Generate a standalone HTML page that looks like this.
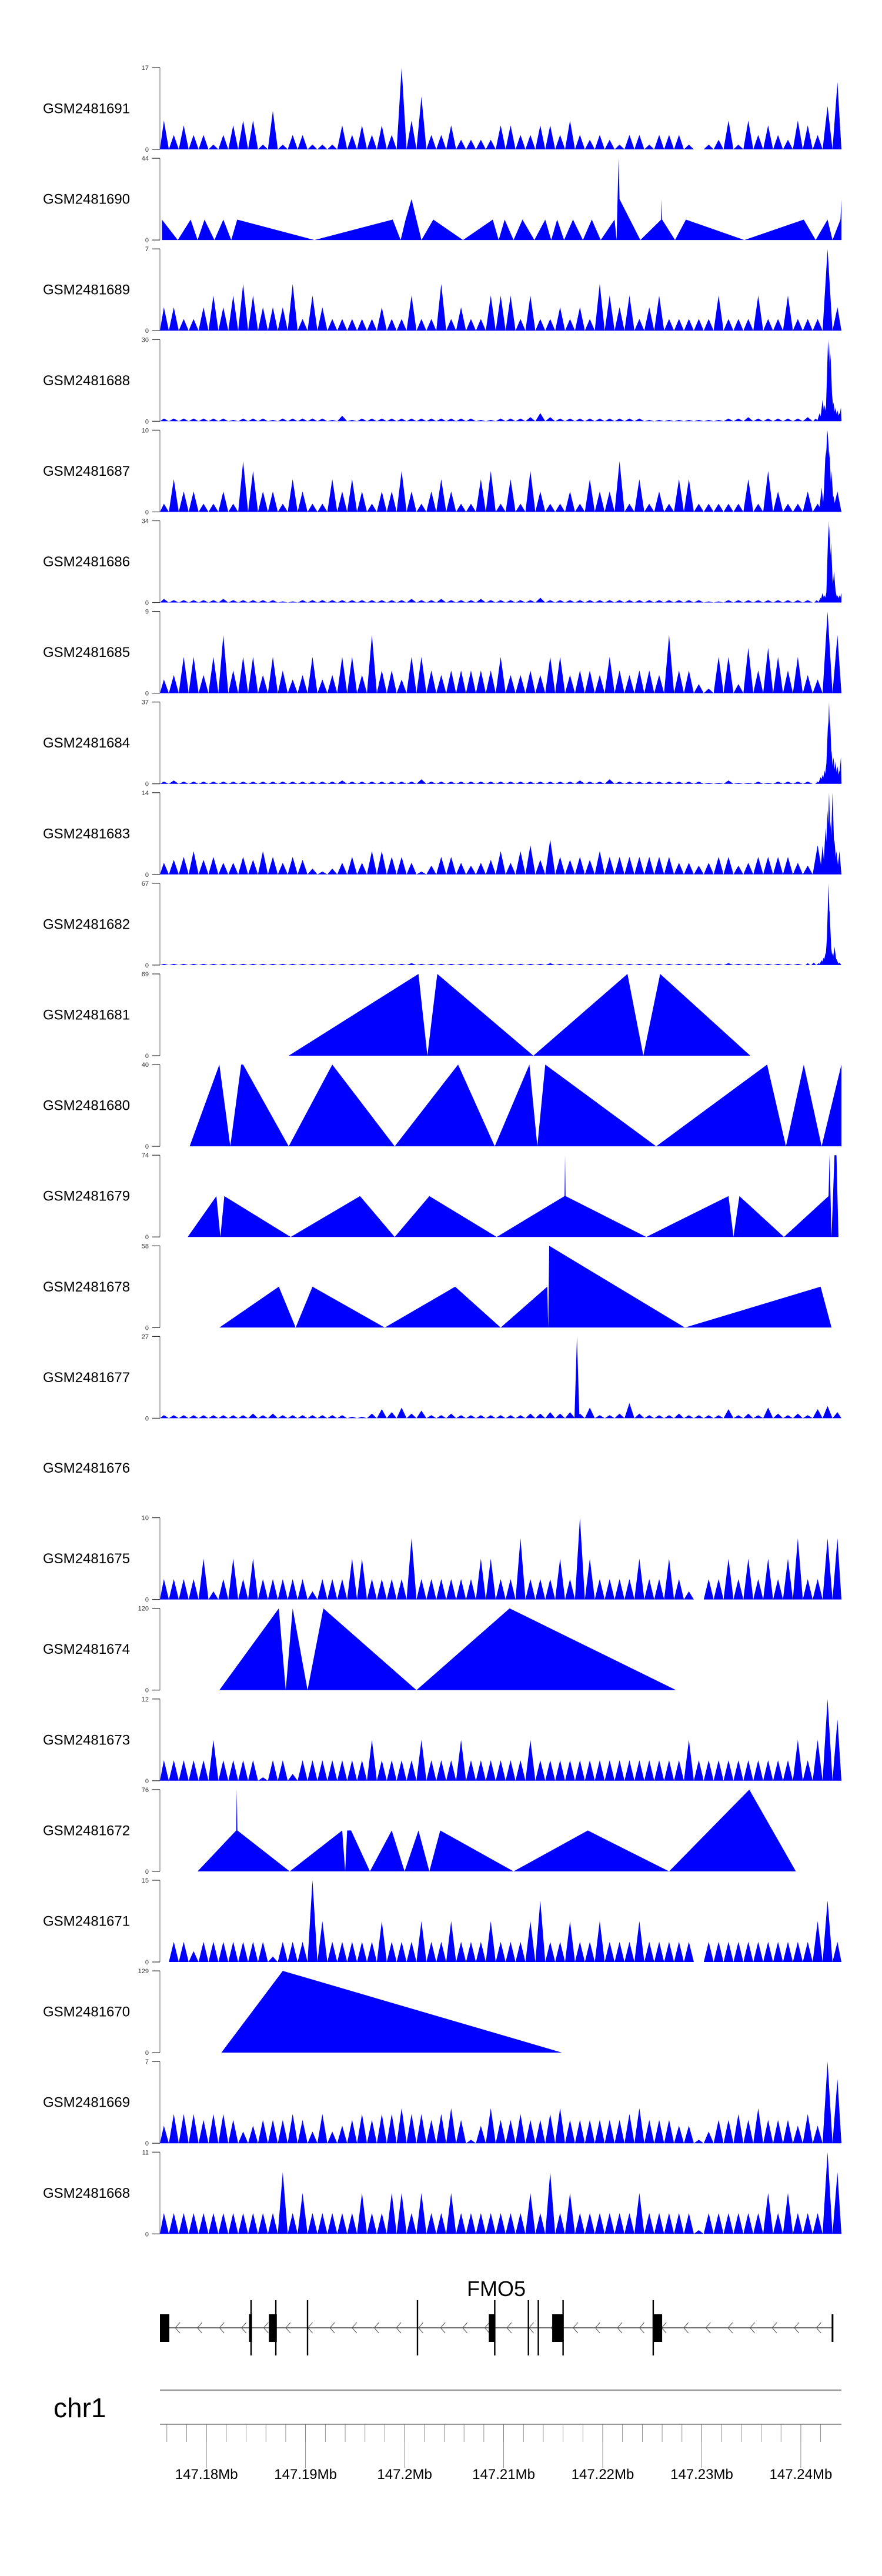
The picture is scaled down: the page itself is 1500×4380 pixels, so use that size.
<!DOCTYPE html>
<html><head><meta charset="utf-8"><style>
html,body{margin:0;padding:0;background:#fff}
svg{display:block}
text{font-family:"Liberation Sans",sans-serif}
</style></head>
<body>
<svg id="chart" width="1500" height="4380" viewBox="0 0 1500 4380" xmlns="http://www.w3.org/2000/svg"></svg>
<script>
const trackNames=["GSM2481691","GSM2481690","GSM2481689","GSM2481688","GSM2481687","GSM2481686","GSM2481685","GSM2481684","GSM2481683","GSM2481682","GSM2481681","GSM2481680","GSM2481679","GSM2481678","GSM2481677","GSM2481676","GSM2481675","GSM2481674","GSM2481673","GSM2481672","GSM2481671","GSM2481670","GSM2481669","GSM2481668"];
const trackMax=[17,44,7,30,10,34,9,37,14,67,69,40,74,58,27,null,10,120,12,76,15,129,7,11];

// spike-style tracks: bin values at kb = i (relative to 147.1753 Mb)
const b1691=[6,3,5,3,3,1,3,5,6,6,1,8,1,3,3,1,1,1,5,3,5,3,5,3,17,6,11,3,3,5,2,2,2,2,5,5,3,3,5,5,3,6,3,2,3,2,1,3,3,1,3,3,3,1,0,1,2,6,1,6,3,5,3,2,6,5,3,9,14];
const b1689=[2,2,1,1,2,3,2,3,4,3,2,2,2,4,1,3,2,1,1,1,1,1,2,1,1,3,1,1,4,1,2,1,1,3,3,3,1,3,1,1,2,1,2,1,4,3,2,3,1,2,3,1,1,1,1,1,3,1,1,1,3,1,1,3,1,1,1,7,2];
const b1688=[1,1,1,1,1,1,1,0.5,1,1,1,0.5,1,1,1,1,1,0.5,2,0.5,1,1,1,1,1,1,1,1,1,1,1,1,0.5,0.5,1,1,1,1.5,3,1.5,1,1,1,1,1,1,1,1,1,0.5,0.5,0.5,0.5,0.5,0.5,0.5,0.5,1,1,1.5,1,1,1,1,1,1.5,0];
const b1687=[1,4,2.5,2.5,1,1,2.5,1,6.2,5,2.5,2.5,1,4,2.5,1,1,4,2.5,4,2.5,1,2.5,2.5,5,2.5,1,2.5,4,2.5,1,1,4,5,1,4,1,5,2.5,1,1,2.5,1,4,2.5,2.5,6.2,1,4,1,2.5,1,4,4,1,1,1,1,1,4,1,5,2.5,1,1,2.5,1,10,2.5];
const b1686=[1.5,1,1,1,1,1,1.5,1,1,1,1,1,0.5,0.5,1,1,1,1,1,1,1,1,1,1,1,1.5,1,1,1.5,1,1,1,1.5,1,1,1,1,1,2,1,1,1,1,1,1,1,1,1,1,1,1,1,1,1,1,0.5,0.5,1,1,1,1,1,1,1,1,1,0];
const b1685=[1.5,2,4,4,2,4,6.4,2.5,4,4,2,4,2.5,1.5,2,4,1.5,2,4,4,2,6.4,2.5,2.5,1.5,4,4,2.5,2,2.5,2.5,2.5,2.5,2.5,4,2,2,2.5,2,4,4,2,2.5,2.5,2,4,2.5,2,2.5,2.5,2,6.4,2.5,2.5,1,0.5,4,4,1,5,2.5,5,4,2.5,4,2,1.5,9,6.4];
const b1684=[1,1.5,1,1,1,1,1,1,1,1,1,1,1,1,1,1,1,1,1.5,1,1,1,1,1,1,1,2,1,1,1,1,1,1,1,1,1,1,1,1,1,1,1,1.5,1,1,2,1,1,1,1,1,1,1,1,1,0.5,0.5,1.5,0.5,0.5,1,0.5,1,1,1,1,0];
const b1683=[2,2.5,3,4,2.5,3,2,2,3,2.5,4,3,2,3,2.5,1,0.5,1,2,3,2,4,4,3,3,2,0.5,1.5,3,3,2,1.5,2,2.5,4,2,4,5,2.5,6,3,2.5,3,2.5,4,3,3,3,3,3,3,3,2,2,1.5,2,3,3,1.5,2,3,3,3,3,2,1.5,5];
const b1682=[1,1,1,1,1,1,1,1,1,1,1,1,1,1,1,1,1,1,1,1,1,1,1,1,1,1.5,1,1,1,1,1,1,1,1,1,1,1,1,1,1.5,1,1,1,1,1,1,1,1,1,1,1,1,1,1,1,1,1,1.5,1,1,1,1,1,1,1];
const b1677=[1,1,1,1,1,1,1,1,1,1.5,1,1.5,1,1,1,1,1,1,1,0.5,0.5,1.5,3,2,3.5,1.5,2.5,1,1,1.5,1,1,1,1,1,1,1,1.5,1.5,2,1.5,2,1.5,3.5,1,1,1.5,5,1.5,1,1,1,1.5,1,1,1,1,3,1,1.5,1,3.5,1.5,1,1.5,1,3,4,2];
const b1675=[2.5,2.5,2.5,2.5,5,1,2.5,5,2.5,5,2.5,2.5,2.5,2.5,2.5,1,2.5,2.5,2.5,5,5,2.5,2.5,2.5,2.5,7.5,2.5,2.5,2.5,2.5,2.5,2.5,5,5,2.5,2.5,7.5,2.5,2.5,2.5,5,2.5,10,5,2.5,2.5,2.5,2.5,5,2.5,2.5,5,2.5,1,0,2.5,2.5,5,2.5,5,2.5,5,2.5,5,7.5,2.5,2.5,7.5,7.5];
const b1673=[3,3,3,3,3,6,3,3,3,3,0.5,3,3,1,3,3,3,3,3,3,3,6,3,3,3,3,6,3,3,3,6,3,3,3,3,3,3,6,3,3,3,3,3,3,3,3,3,3,3,3,3,3,3,6,3,3,3,3,3,3,3,3,3,3,6,3,6,12,9];
const b1671=[0,3.7,3.7,2,3.7,3.7,3.7,3.7,3.7,3.7,3.7,1,3.7,3.7,3.7,15,7.5,3.7,3.7,3.7,3.7,3.7,7.5,3.7,3.7,3.7,7.5,3.7,3.7,7.5,3.7,3.7,3.7,7.5,3.7,3.7,3.7,7.5,11.3,3.7,3.7,7.5,3.7,3.7,7.5,3.7,3.7,3.7,7.5,3.7,3.7,3.7,3.7,3.7,0,3.7,3.7,3.7,3.7,3.7,3.7,3.7,3.7,3.7,3.7,3.7,7.5,11.3,3.7];
const b1669=[1.5,2.5,2.5,2.5,2,2.5,2.5,2,1,1.5,2,2,2,2.5,2,1,2.5,1,1.5,2,2.5,2,2.5,2.5,3,2.5,2.5,2,2.5,3,2,0.3,1.5,3,2,2,2.5,2,2,2.5,3,2,2,2,2,2,2,2.5,3,2,2,2,1.5,1.5,0.3,1,2,2,2.5,2,3,2,2,2,1.5,2.5,1.5,7,5.5];
const b1668=[2.8,2.8,2.8,2.8,2.8,2.8,2.8,2.8,2.8,2.8,2.8,2.8,8.3,2.8,5.5,2.8,2.8,2.8,2.8,2.8,5.5,2.8,2.8,5.5,5.5,2.8,5.5,2.8,2.8,5.5,2.8,2.8,2.8,2.8,2.8,2.8,2.8,5.5,2.8,8.3,2.8,5.5,2.8,2.8,2.8,2.8,2.8,2.8,5.5,2.8,2.8,2.8,2.8,2.8,0.5,2.8,2.8,2.8,2.8,2.8,2.8,5.5,2.8,5.5,2.8,2.8,2.8,11,8.3];

// narrow extra spikes (tails / isolated peaks)
const t1688Pos=[66.2,66.6,66.9,67.1,67.3,67.45,67.55,67.7,67.85,68.0,68.2,68.4,68.6,68.75];
const t1688Val=[1,3,8,6,7,30,29,25,10,7,5,4,3,5];
const t1686Pos=[66.3,66.7,66.9,67.1,67.35,67.5,67.6,67.75,67.9,68.05,68.2,68.4,68.6,68.8];
const t1686Val=[1,2,4,3,6,34,32,25,10,13,5,3,3,4];
const t1684Pos=[66.4,66.7,66.9,67.1,67.3,67.45,67.55,67.65,67.8,68.0,68.2,68.4,68.6,68.75];
const t1684Val=[1,3,4,6,10,28,37,30,15,12,10,8,6,12];
const t1683Pos=[66.5,66.9,67.2,67.4,67.55,67.7,67.9,68.1,68.3,68.6];
const t1683Val=[2,5,8,11,14,9,14,6,4,4];
const t1682Pos=[65.4,66.0,66.5,66.8,67.0,67.2,67.4,67.5,67.6,67.75,67.9,68.1,68.3,68.6];
const t1682Val=[1.5,2,1.5,4,6,10,30,67,45,15,10,15,5,2];
const t1687Pos=[66.8,67.2,67.35,67.6,67.8,68.0];
const t1687Val=[3,7.5,10,7.5,5,2];
const t1677Pos=[42.1];
const t1677Val=[27];

// line-style tracks: vertices
const l1690Pos=[0.2,1.8,3.1,3.8,4.5,5.5,6.4,7.2,7.8,15.6,23.5,24.3,24.8,25.4,26.4,27.6,30.6,33.6,34.2,34.8,35.7,36.6,37.8,38.9,39.5,40.1,40.8,41.7,42.7,43.6,44.5,45.9,46.1,46.3,46.4,48.5,50.6,50.65,50.7,52.0,53.1,59.0,65.0,66.2,67.4,67.9,68.7,68.8];
const l1690Val=[11,0,11,0,11,0,11,0,11,0,11,0,11,22,0,11,0,11,0,11,0,11,0,11,0,11,0,11,0,11,0,11,0,44,22,0,11,22,11,0,11,0,11,0,11,0,11,22];
const l1681Pos=[13.0,26.1,27.0,28.0,37.7,47.2,48.8,50.5,59.6];
const l1681Val=[0,69,0,69,0,69,0,69,0];
const l1680Pos=[3.0,6.0,7.1,8.2,8.4,13.0,17.4,23.7,30.1,33.8,37.3,38.1,38.9,50.1,61.3,63.2,65.0,66.8,68.8];
const l1680Val=[0,40,0,40,40,0,40,0,40,0,40,0,40,0,40,0,40,0,40];
const l1679Pos=[2.8,5.7,6.1,6.5,13.2,20.2,23.7,27.2,34.0,40.85,40.9,40.95,49.1,57.4,57.9,58.5,63.0,67.5,67.6,67.8,68.1,68.3,68.5];
const l1679Val=[0,37,0,37,0,37,0,37,0,37,74,37,0,37,0,37,0,37,74,0,74,74,0];
const l1678Pos=[6.0,12.0,13.7,15.4,22.7,29.8,34.4,39.1,39.2,39.3,53.0,66.7,67.8];
const l1678Val=[0,29,0,29,0,29,0,29,0,58,0,29,0];
const l1674Pos=[6.0,12.0,12.7,13.4,14.9,16.5,25.9,35.3,52.1];
const l1674Val=[0,120,0,120,0,120,0,120,0];
const l1672Pos=[3.8,7.7,7.76,7.82,13.1,18.4,18.7,18.9,19.3,21.2,23.4,24.7,26.1,27.2,28.3,35.7,43.2,51.4,59.5,64.2];
const l1672Val=[0,38,76,38,0,38,0,38,38,0,38,0,38,0,38,0,38,0,76,0];
const l1670Pos=[6.2,12.4,40.6];
const l1670Val=[0,129,0];

const spikeData={GSM2481691:[b1691],GSM2481689:[b1689],GSM2481688:[b1688,t1688Pos,t1688Val],GSM2481687:[b1687,t1687Pos,t1687Val],GSM2481686:[b1686,t1686Pos,t1686Val],GSM2481685:[b1685],GSM2481684:[b1684,t1684Pos,t1684Val],GSM2481683:[b1683,t1683Pos,t1683Val],GSM2481682:[b1682,t1682Pos,t1682Val],GSM2481677:[b1677,t1677Pos,t1677Val],GSM2481675:[b1675],GSM2481673:[b1673],GSM2481671:[b1671],GSM2481669:[b1669],GSM2481668:[b1668]};
const lineData={GSM2481690:[l1690Pos,l1690Val],GSM2481681:[l1681Pos,l1681Val],GSM2481680:[l1680Pos,l1680Val],GSM2481679:[l1679Pos,l1679Val],GSM2481678:[l1678Pos,l1678Val],GSM2481674:[l1674Pos,l1674Val],GSM2481672:[l1672Pos,l1672Val],GSM2481670:[l1670Pos,l1670Val]};

// gene model (kb offsets) and axis
const exonStart=[0,9.0,11.0,33.2,39.6,49.8];
const exonEnd=[0.95,9.3,11.8,33.8,40.7,50.7];
const cdsLines=[9.2,11.7,14.9,26.0,33.8,37.2,38.2,40.7,49.8];
const geneStart=0, geneEnd=67.9;
const majorTicks=[147.18,147.19,147.20,147.21,147.22,147.23,147.24];
const tickLabels=["147.18Mb","147.19Mb","147.2Mb","147.21Mb","147.22Mb","147.23Mb","147.24Mb"];
const domainStartMb=147.1753;

const NS="http://www.w3.org/2000/svg";
const svg=document.getElementById('chart');
const X0=272,X1=1431,KB=68.8;
function xs(kb){return X0+kb*(X1-X0)/KB;}
function mk(tag,attrs,parent){const e=document.createElementNS(NS,tag);for(const k in attrs)e.setAttribute(k,attrs[k]);(parent||svg).appendChild(e);return e;}

trackNames.forEach((name,i)=>{
  const top=115+154.1*i,h=139,base=top+h;
  const g=mk('g',{});
  
  
  const lab=mk('text',{x:73,y:top+h/2+8,'font-size':24,fill:'#000'},g);
  lab.textContent=name;
  
  
  const mx=trackMax[i];
  if(mx===null)return;
  const ys=v=>base-v/mx*h;
  const ax=mk('line',{x1:X0,y1:top,x2:X0,y2:base,stroke:'#999','stroke-width':1.5},g);
  
  
  [[mx,top],[0,base]].forEach(([v,y])=>{
    mk('line',{x1:259,y1:y,x2:X0,y2:y,stroke:'#333','stroke-width':1.2},g);
    const t=mk('text',{x:253,y:y+4,'font-size':11,'text-anchor':'end',fill:'#333'},g);
    t.textContent=v;
    
    
  });
  if(spikeData[name]){
    const [bins,tp,tv]=spikeData[name];
    let d='';
    bins.forEach((v,k)=>{const c=k+0.4;if(v>0)d+=`M${xs(Math.max(0,c-0.5))},${base}L${xs(c)},${ys(v)}L${xs(Math.min(KB,c+0.5))},${base}Z`;});
    if(tp)tp.forEach((p,k)=>{d+=`M${xs(p-0.25)},${base}L${xs(p)},${ys(tv[k])}L${xs(Math.min(KB,p+0.25))},${base}Z`;});
    const p=mk('path',{d:d,fill:'#0000ff'},g);
    
    
  }
  if(lineData[name]){
    const [ps,vs]=lineData[name];
    let d=`M${xs(ps[0])},${base}`;
    ps.forEach((p,k)=>{d+=`L${xs(p)},${ys(vs[k])}`;});
    d+=`L${xs(ps[ps.length-1])},${base}Z`;
    const p=mk('path',{d:d,fill:'#0000ff'},g);
    
    
  }
});

// gene track
const gg=mk('g',{});


const gl=mk('text',{x:844,y:3904,'font-size':36,'text-anchor':'middle',fill:'#000'},gg);
gl.textContent='FMO5';


mk('line',{x1:xs(geneStart),y1:3958,x2:xs(geneEnd),y2:3958,stroke:'#444','stroke-width':1.5},gg);
for(let x=xs(geneStart)+28;x<xs(geneEnd)-5;x+=37.6){
  mk('polyline',{points:`${x+6},3949 ${x-2},3958 ${x+6},3967`,fill:'none',stroke:'#555','stroke-width':1},gg);
}
exonStart.forEach((s,k)=>{
  const r=mk('rect',{x:xs(s),y:3935,width:Math.max(3,xs(exonEnd[k])-xs(s)),height:47,fill:'#000'},gg);
  
  
});
mk('rect',{x:xs(geneEnd)-1.5,y:3935,width:3,height:47,fill:'#000'},gg);
cdsLines.forEach(p=>{mk('rect',{x:xs(p)-1.2,y:3911,width:2.4,height:94,fill:'#000'},gg);});

// chromosome / genome axis
const chr=mk('text',{x:91,y:4110,'font-size':46,fill:'#000'});
chr.textContent='chr1';


const ideo=mk('line',{x1:X0,y1:4064,x2:X1,y2:4064,stroke:'#999','stroke-width':2.5});


const xa=mk('g',{});


mk('line',{x1:X0,y1:4122,x2:X1,y2:4122,stroke:'#999','stroke-width':2},xa);
for(let mb=147.176;mb<=147.2425;mb+=0.002){
  const x=xs((mb-domainStartMb)*1000);
  mk('line',{x1:x,y1:4122,x2:x,y2:4152,stroke:'#777','stroke-width':0.8},xa);
}
majorTicks.forEach((mb,k)=>{
  const x=xs((mb-domainStartMb)*1000);
  mk('line',{x1:x,y1:4122,x2:x,y2:4196,stroke:'#777','stroke-width':0.8},xa);
  const t=mk('text',{x:x,y:4215,'font-size':24,'text-anchor':'middle',fill:'#000'},xa);
  t.textContent=tickLabels[k];
  
  
});
</script>
</body></html>
